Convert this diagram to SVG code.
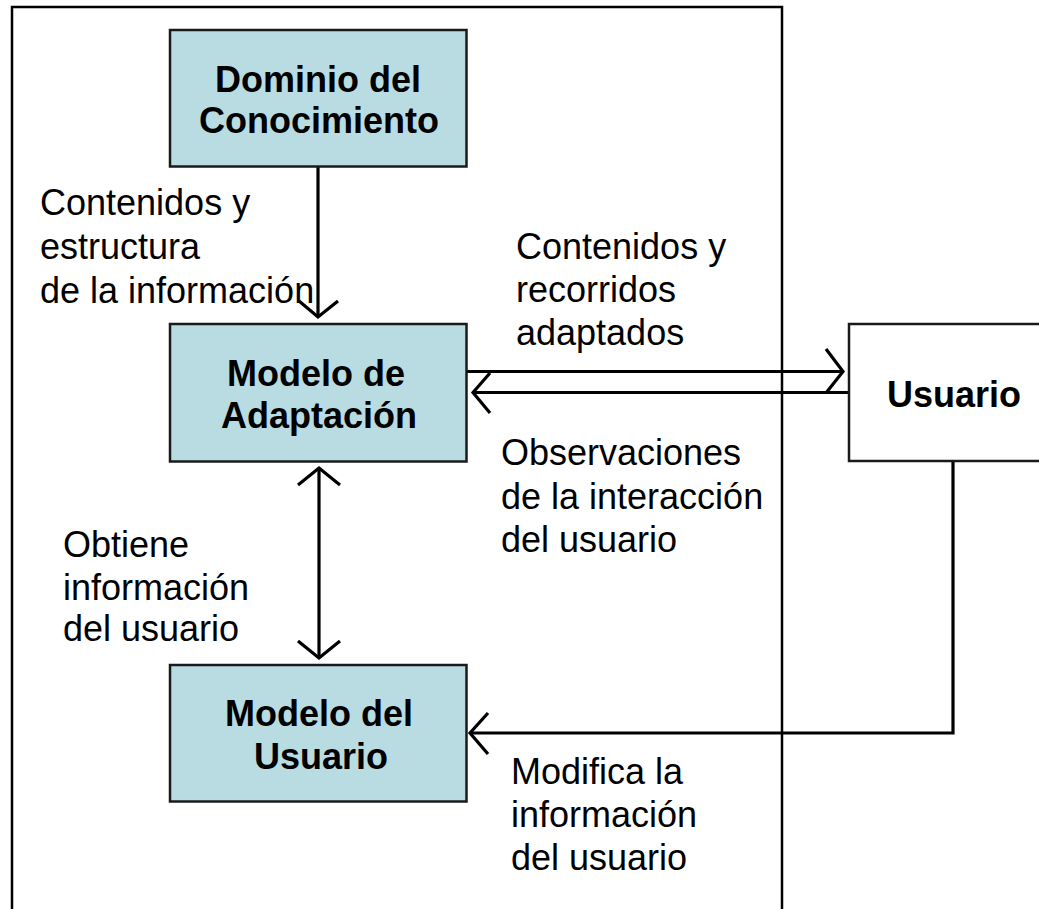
<svg xmlns="http://www.w3.org/2000/svg" width="1039" height="909" viewBox="0 0 1039 909">
<style>
.box{fill:#b9dce2;stroke:#1a1a1a;stroke-width:2.5}
.ubox{fill:#ffffff;stroke:#1a1a1a;stroke-width:2.5}
.bt{font-family:"Liberation Sans",Arial,sans-serif;font-size:36px;font-weight:bold;fill:#000;text-anchor:middle}
.lt{font-family:"Liberation Sans",Arial,sans-serif;font-size:36px;fill:#000}
.ln{fill:none;stroke:#000;stroke-width:3.2;stroke-linejoin:miter}
.ah{fill:none;stroke:#000;stroke-width:3.2;stroke-linejoin:miter;stroke-linecap:butt}
</style>
<rect x="0" y="0" width="1039" height="909" fill="#ffffff"/>
<rect id="frame" x="12" y="7" width="770" height="930" fill="none" stroke="#000" stroke-width="2.5"/>
<g id="connectors">
  <path class="ln" d="M318,167 V316"/>
  <path class="ah" d="M299,301 L318,317 L338,301"/>
  <path class="ln" d="M466,371.5 H842"/>
  <path class="ah" d="M826,349 L843,371.5 L826,393"/>
  <path class="ln" d="M850,392.5 H474"/>
  <path class="ah" d="M490,373 L473,392.5 L490,413"/>
  <path class="ln" d="M319,470 V656"/>
  <path class="ah" d="M298,485 L319,468 L340,485"/>
  <path class="ah" d="M298,641 L319,658 L340,641"/>
  <path class="ln" d="M953,461 V733 H472"/>
  <path class="ah" d="M488,713 L470,733 L488,754"/>
</g>
<g id="dominio">
  <rect class="box" x="170" y="30" width="296.5" height="136.5"/>
  <text class="bt" x="318" y="92">Dominio del</text>
  <text class="bt" x="319" y="133">Conocimiento</text>
</g>
<g id="adaptacion">
  <rect class="box" x="170" y="324" width="296.5" height="137.5"/>
  <text class="bt" x="316" y="386">Modelo de</text>
  <text class="bt" x="319" y="428">Adaptación</text>
</g>
<g id="modelo-usuario">
  <rect class="box" x="170" y="665" width="296.5" height="136.5"/>
  <text class="bt" x="319" y="726">Modelo del</text>
  <text class="bt" x="321" y="769">Usuario</text>
</g>
<g id="usuario">
  <rect class="ubox" x="849" y="324" width="200" height="137"/>
  <text class="bt" x="954" y="407">Usuario</text>
</g>
<g id="labels">
  <text class="lt" x="40" y="215">Contenidos y</text>
  <text class="lt" x="40" y="259">estructura</text>
  <text class="lt" x="40" y="303">de la información</text>
  <text class="lt" x="516" y="259">Contenidos y</text>
  <text class="lt" x="516" y="302">recorridos</text>
  <text class="lt" x="516" y="345">adaptados</text>
  <text class="lt" x="501" y="465">Observaciones</text>
  <text class="lt" x="501" y="509">de la interacción</text>
  <text class="lt" x="501" y="552">del usuario</text>
  <text class="lt" x="63" y="557">Obtiene</text>
  <text class="lt" x="63" y="600">información</text>
  <text class="lt" x="63" y="641">del usuario</text>
  <text class="lt" x="511" y="784">Modifica la</text>
  <text class="lt" x="511" y="827">información</text>
  <text class="lt" x="511" y="870">del usuario</text>
</g>
</svg>
